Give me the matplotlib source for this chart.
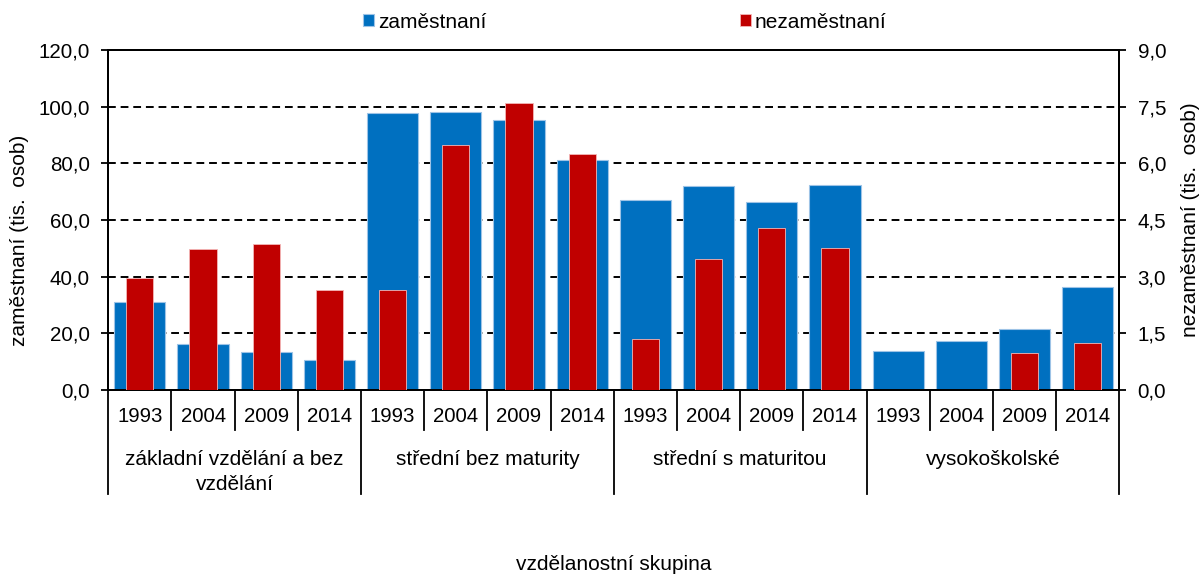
import numpy as np
import matplotlib.pyplot as plt
from matplotlib.ticker import FuncFormatter

plt.rcParams['font.family'] = ['Liberation Sans', 'DejaVu Sans']

# Dati
skupiny = ['základní vzdělání a bez\nvzdělání', 'střední bez maturity',
           'střední s maturitou', 'vysokoškolské']
roky = ['1993', '2004', '2009', '2014']

# zaměstnaní (tis. osob), levá osa
zamestnani = [31.0, 16.2, 13.3, 10.6,
              97.8, 98.1, 95.3, 81.1,
              66.9, 72.1, 66.2, 72.2,
              13.8, 17.2, 21.5, 36.4]

# nezaměstnaní (tis. osob), pravá osa
nezamestnani = [2.97, 3.74, 3.87, 2.66,
                2.66, 6.48, 7.60, 6.26,
                1.35, 3.48, 4.28, 3.75,
                np.nan, np.nan, 0.98, 1.24]

modra = '#0070C0'
cervena = '#C00000'

n = len(zamestnani)
x = np.arange(n)

fig = plt.figure(figsize=(12, 5.74), dpi=100)
ax = fig.add_axes([108.3 / 1200, 1 - 390 / 574, (1119.3 - 108.3) / 1200, 340 / 574])
ax2 = ax.twinx()

b1 = ax.bar(x, zamestnani, width=0.81, color=modra, edgecolor='#9DC3E6', linewidth=0.8,
            label='zaměstnaní', zorder=2)
b2 = ax2.bar(x, nezamestnani, width=0.43, color=cervena, edgecolor='#F4B6B6', linewidth=0.6,
             label='nezaměstnaní', zorder=3)

ax.set_xlim(-0.5, n - 0.5)
ax.set_ylim(0, 120)
ax2.set_ylim(0, 9)
ax.set_yticks(np.arange(0, 121, 20))
ax2.set_yticks(np.arange(0, 9.1, 1.5))

fmt = FuncFormatter(lambda v, p: f'{v:.1f}'.replace('.', ','))
ax.yaxis.set_major_formatter(fmt)
ax2.yaxis.set_major_formatter(fmt)

# mřížka - přerušované čáry
for v in np.arange(20, 101, 20):
    ax.axhline(v, color='black', linestyle=(0, (4, 2.5)), linewidth=1.4, zorder=1)

ax.set_xticks([])
for a in (ax, ax2):
    a.tick_params(axis='y', labelsize=14.8, length=4.7, width=1.3, direction='out', pad=8.5)
    for s in a.spines.values():
        s.set_linewidth(1.4)

# popisky kategorií pod osou
trans = ax.get_xaxis_transform()
for i in range(n):
    ax.text(x[i], -0.078, roky[i % 4], transform=trans, ha='center', va='center', fontsize=14.7)
for i in range(n + 1):
    konec = -0.305 if i % 4 == 0 else -0.118
    ax.plot([i - 0.5, i - 0.5], [0, konec], transform=trans, color='black',
            linewidth=1.3, clip_on=False)
for g, nazev in enumerate(skupiny):
    ax.text(g * 4 + 1.5, -0.176, nazev, transform=trans, ha='center', va='top',
            fontsize=15, linespacing=1.4)

fig.text(614 / 1200, 1 - 564 / 574, 'vzdělanostní skupina', ha='center', va='center', fontsize=15)
fig.text(20 / 1200, 1 - 240 / 574, 'zaměstnaní (tis.  osob)', rotation=90,
         ha='center', va='center', fontsize=15)
fig.text(1191 / 1200, 1 - 220 / 574, 'nezaměstnaní (tis.  osob)', rotation=90,
         ha='center', va='center', fontsize=15)

fig.legend(handles=[b1, b2], loc='center left', bbox_to_anchor=(363 / 1200, 1 - 22 / 574),
           ncol=2, frameon=False, fontsize=15, handlelength=0.53, handleheight=0.53,
           handletextpad=0.19, columnspacing=12.15, borderpad=0, borderaxespad=0)

plt.savefig('out.png', dpi=100)
